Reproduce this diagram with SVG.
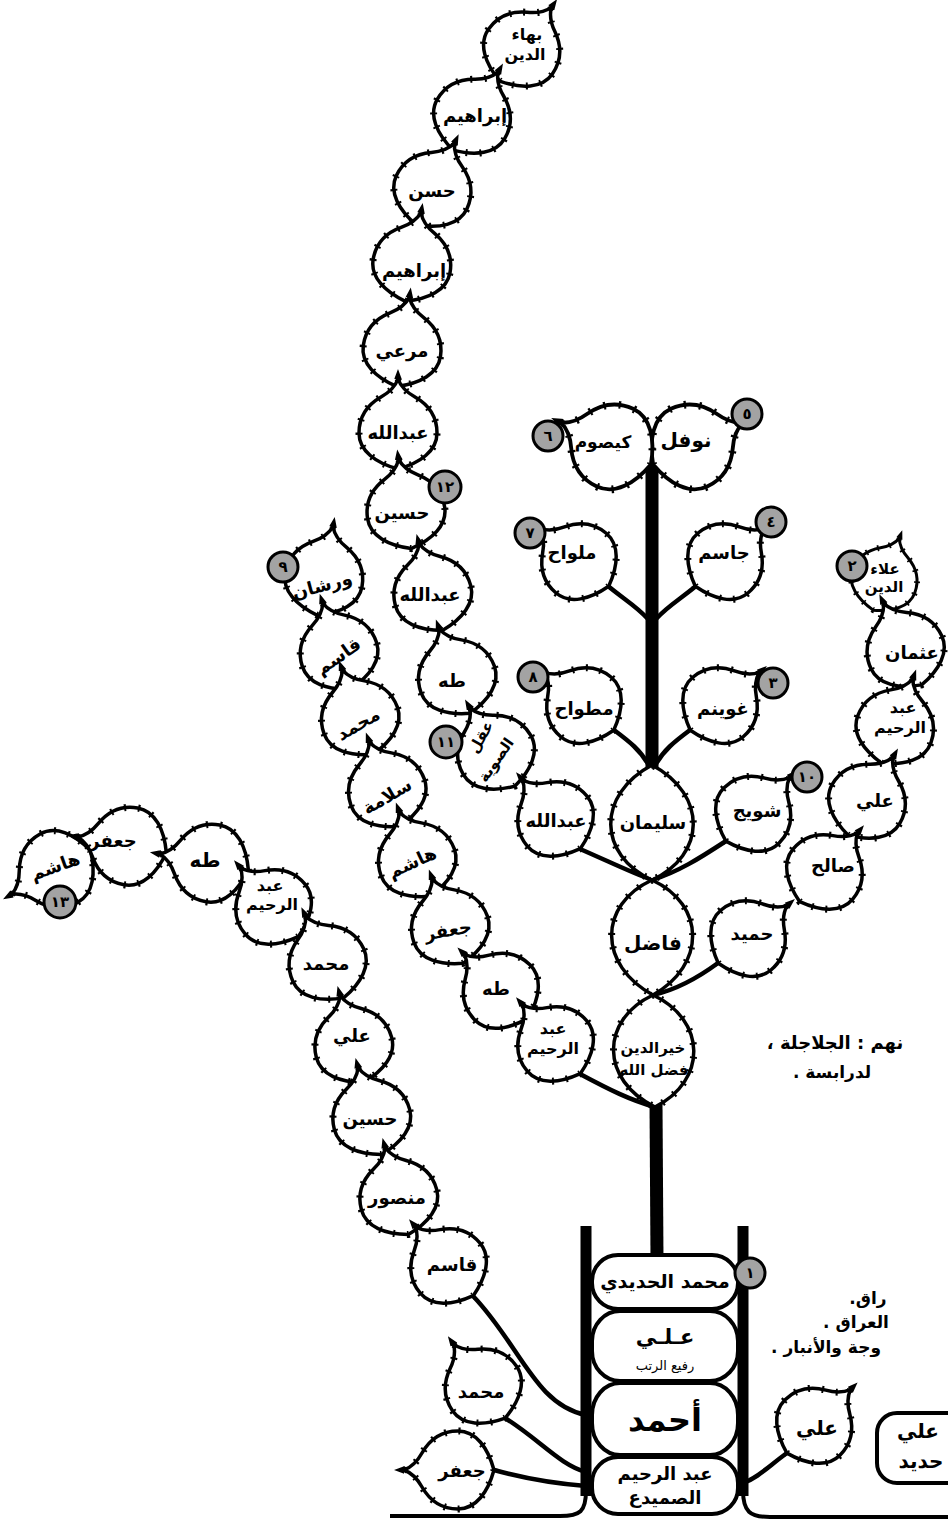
<svg xmlns="http://www.w3.org/2000/svg" width="948" height="1528" viewBox="0 0 948 1528">
<style>
.lf{fill:#fff;stroke:#000;stroke-width:3.5;stroke-linejoin:round}
.lt{fill:none;stroke:#000;stroke-width:7;stroke-dasharray:2 12}
.br{fill:none;stroke:#000;stroke-width:4.5;stroke-linecap:round}
.tk{fill:none;stroke:#000;stroke-width:13}
.ov{fill:#fff;stroke:#000;stroke-width:4}
.c{fill:#a3a3a3;stroke:#000;stroke-width:3}
.t{font-family:"DejaVu Sans",sans-serif;font-weight:bold;font-size:18px;text-anchor:middle;dominant-baseline:central;fill:#000;direction:rtl}
.s{font-size:15px}
.m{font-size:16px}
.d{font-family:"DejaVu Sans",sans-serif;font-weight:bold;font-size:15px;text-anchor:middle;dominant-baseline:central;fill:#000}
.p{font-family:"DejaVu Sans",sans-serif;font-weight:bold;font-size:17px;text-anchor:middle;dominant-baseline:central;fill:#000;direction:rtl}
</style>
<defs>
<path id="lp" d="M0,-46 C3,-38 8,-33 17,-28 C31,-20 39,-8 39,8 C39,26 22,38 0,44 C-22,38 -39,26 -39,8 C-39,-8 -31,-20 -17,-28 C-8,-33 -3,-38 0,-46 Z"/>
<g id="leaf"><use href="#lp" class="lf"/><use href="#lp" class="lt"/></g>
</defs>
<rect width="948" height="1528" fill="#fff"/>

<g id="connectors">
<line class="tk" x1="652" y1="462" x2="652" y2="768"/>
<line class="tk" x1="656" y1="1104" x2="657" y2="1260"/>
<path class="br" d="M608,586 C625,600 636,606 647,618"/>
<path class="br" d="M696,586 C679,600 668,606 657,618"/>
<path class="br" d="M614,730 C630,742 640,750 648,764"/>
<path class="br" d="M690,730 C674,742 664,750 656,764"/>
<path class="br" d="M580,849 C610,862 630,872 652,880"/>
<path class="br" d="M726,841 C700,858 678,872 652,880"/>
<path class="br" d="M718,963 C695,980 675,990 653,995"/>
<path class="br" d="M580,1074 C610,1090 630,1100 655,1107"/>
<path class="br" d="M473,1296 C520,1345 535,1405 586,1415"/>
<path class="br" d="M505,1418 C540,1440 560,1465 586,1472"/>
<path class="br" d="M494,1470 C530,1480 560,1484 586,1486"/>
<path class="br" d="M787,1453 C770,1465 758,1478 743,1483"/>
</g>

<g id="vessel">
<line x1="586" y1="1226" x2="586" y2="1496" stroke="#000" stroke-width="11"/>
<line x1="743" y1="1226" x2="743" y2="1496" stroke="#000" stroke-width="11"/>
<path d="M586,1490 C586,1512 580,1516 560,1516 L390,1516" fill="none" stroke="#000" stroke-width="4"/>
<path d="M743,1490 C743,1512 750,1517 770,1517 L948,1517" fill="none" stroke="#000" stroke-width="4"/>
</g>

<g id="n-nawfal"><use href="#leaf" transform="translate(697,444) rotate(65) scale(1.1)"/><text class="t" x="686" y="440" style="font-size:20px">نوفل</text></g>
<g id="n-kaysum"><use href="#leaf" transform="translate(607,444) rotate(-65) scale(1.1)"/><text class="t" x="603" y="442" style="font-size:17px">كيصوم</text></g>
<g id="n-milwah"><use href="#leaf" transform="translate(575,558) rotate(-50)"/><text class="t" x="572" y="552">ملواح</text></g>
<g id="n-jasim"><use href="#leaf" transform="translate(729,558) rotate(50)"/><text class="t" x="724" y="552">جاسم</text></g>
<g id="n-mitwah"><use href="#leaf" transform="translate(580,702) rotate(-50)"/><text class="t" x="584" y="708">مطواح</text></g>
<g id="n-ghwaynim"><use href="#leaf" transform="translate(724,702) rotate(50)"/><text class="t" x="723" y="708">غوينم</text></g>
<g id="n-shwayj"><use href="#leaf" transform="translate(757,810) rotate(45)"/><text class="t" x="757" y="810">شويج</text></g>

<g id="n-sulayman"><path class="lf" d="M652,765 C596,795 598,855 652,880 C706,855 708,795 652,765 Z"/><path class="lt" d="M652,765 C596,795 598,855 652,880 C706,855 708,795 652,765 Z"/><text class="t" x="653" y="822">سليمان</text></g>
<g id="n-fadil"><path class="lf" d="M652,880 C598,905 598,965 653,995 C706,965 706,905 652,880 Z"/><path class="lt" d="M652,880 C598,905 598,965 653,995 C706,965 706,905 652,880 Z"/><text class="t" x="653" y="943" style="font-size:20px">فاضل</text></g>
<g id="n-khayr"><path class="lf" d="M653,995 C600,1020 600,1080 655,1107 C708,1080 706,1020 653,995 Z"/><path class="lt" d="M653,995 C600,1020 600,1080 655,1107 C708,1080 706,1020 653,995 Z"/><text class="t s" x="653" y="1048">خيرالدين</text><text class="t s" x="654" y="1070">فضل الله</text></g>

<g id="n-bahaa"><use href="#leaf" transform="translate(525,45) rotate(35)"/><text class="t m" x="527" y="34">بهاء</text><text class="t m" x="525" y="54">الدين</text></g>
<g id="n-ibrahim1"><use href="#leaf" transform="translate(475,112) rotate(30)"/><text class="t" x="475" y="115">إبراهيم</text></g>
<g id="n-hasan"><use href="#leaf" transform="translate(435,185) rotate(25)"/><text class="t" x="432" y="190">حسن</text></g>
<g id="n-ibrahim2"><use href="#leaf" transform="translate(413,258) rotate(10)"/><text class="t" x="414" y="270">إبراهيم</text></g>
<g id="n-mari"><use href="#leaf" transform="translate(403,343) rotate(8)"/><text class="t" x="402" y="350">مرعي</text></g>
<g id="n-abdallah1"><use href="#leaf" transform="translate(398,425) rotate(0)"/><text class="t" x="398" y="432">عبدالله</text></g>
<g id="n-husayn1"><use href="#leaf" transform="translate(405,505) rotate(-8)"/><text class="t" x="402" y="512">حسين</text></g>
<g id="n-abdallah2"><use href="#leaf" transform="translate(431,588) rotate(-15)"/><text class="t" x="430" y="594">عبدالله</text></g>
<g id="n-taha1"><use href="#leaf" transform="translate(455,672) rotate(-20)"/><text class="t" x="452" y="680">طه</text></g>
<g id="n-aql"><use href="#leaf" transform="translate(493,748) rotate(-30)"/><text class="t s" transform="translate(481,737) rotate(-60)">عقل</text><text class="t s" transform="translate(496,760) rotate(-55)">الصوية</text></g>
<g id="n-abdallah3"><use href="#leaf" transform="translate(552,815) rotate(-40)"/><text class="t" x="556" y="820">عبدالله</text></g>

<g id="n-warshan"><use href="#leaf" transform="translate(325,572) rotate(10)"/><text class="t" transform="translate(322,585) rotate(-15)">ورشان</text></g>
<g id="n-qasim1"><use href="#leaf" transform="translate(337,647) rotate(-18)"/><text class="t" transform="translate(338,656) rotate(-35)">قاسم</text></g>
<g id="n-muhammad1"><use href="#leaf" transform="translate(358,713) rotate(-20)"/><text class="t" transform="translate(358,724) rotate(-30)">محمد</text></g>
<g id="n-salama"><use href="#leaf" transform="translate(385,785) rotate(-20)"/><text class="t" transform="translate(387,796) rotate(-30)">سلامة</text></g>
<g id="n-hashim1"><use href="#leaf" transform="translate(415,855) rotate(-20)"/><text class="t" transform="translate(412,862) rotate(-25)">هاشم</text></g>
<g id="n-jafar1"><use href="#leaf" transform="translate(448,922) rotate(-20)"/><text class="t" transform="translate(448,930) rotate(-10)">جعفر</text></g>
<g id="n-taha2"><use href="#leaf" transform="translate(497,987) rotate(-45)"/><text class="t" x="496" y="988">طه</text></g>
<g id="n-abdalrahim1"><use href="#leaf" transform="translate(552,1040) rotate(-40)"/><text class="t m" x="553" y="1028">عبد</text><text class="t m" x="553" y="1048">الرحيم</text></g>

<g id="n-hashim2"><use href="#leaf" transform="translate(52,872) rotate(-119)"/><text class="t" transform="translate(55,866) rotate(-20)">هاشم</text></g>
<g id="n-jafar2"><use href="#leaf" transform="translate(123,845) rotate(-80)"/><text class="t" x="113" y="840">جعفر</text></g>
<g id="n-taha3"><use href="#leaf" transform="translate(205,862) rotate(-80)"/><text class="t" x="205" y="860" style="font-size:20px">طه</text></g>
<g id="n-abdalrahim2"><use href="#leaf" transform="translate(270,903) rotate(-40)"/><text class="t m" x="270" y="885">عبد</text><text class="t m" x="272" y="904">الرحيم</text></g>
<g id="n-muhammad2"><use href="#leaf" transform="translate(325,958) rotate(-25)"/><text class="t" x="326" y="963">محمد</text></g>
<g id="n-ali1"><use href="#leaf" transform="translate(352,1040) rotate(-15)"/><text class="t" x="352" y="1035">علي</text></g>
<g id="n-husayn2"><use href="#leaf" transform="translate(370,1112) rotate(-15)"/><text class="t" x="370" y="1118">حسين</text></g>
<g id="n-mansur"><use href="#leaf" transform="translate(397,1192) rotate(-15)"/><text class="t" x="397" y="1197">منصور</text></g>
<g id="n-qasim2"><use href="#leaf" transform="translate(445,1262) rotate(-40)"/><text class="t" x="452" y="1264">قاسم</text></g>
<g id="n-muhammad3"><use href="#leaf" transform="translate(480,1382) rotate(-35)"/><text class="t" x="481" y="1391">محمد</text></g>
<g id="n-jafar3"><use href="#leaf" transform="translate(450,1470) rotate(-90)"/><text class="t" x="462" y="1470">جعفر</text></g>

<g id="n-alaa"><use href="#leaf" transform="translate(886,575) rotate(20) scale(0.85)"/><text class="t s" x="885" y="569">علاء</text><text class="t s" x="884" y="587">الدين</text></g>
<g id="n-uthman"><use href="#leaf" transform="translate(903,645) rotate(-25)"/><text class="t" x="912" y="652">عثمان</text></g>
<g id="n-abdalrahim3"><use href="#leaf" transform="translate(897,722) rotate(20)"/><text class="t m" x="903" y="707">عبد</text><text class="t m" x="900" y="727">الرحيم</text></g>
<g id="n-ali2"><use href="#leaf" transform="translate(870,797) rotate(30)"/><text class="t" x="875" y="800">علي</text></g>
<g id="n-salih"><use href="#leaf" transform="translate(828,868) rotate(40)"/><text class="t" x="833" y="865">صالح</text></g>
<g id="n-hamid"><use href="#leaf" transform="translate(752,935) rotate(50)"/><text class="t" x="752" y="933">حميد</text></g>

<g id="n-ali3"><use href="#leaf" transform="translate(818,1422) rotate(45)"/><text class="t" x="817" y="1428" style="font-size:20px">علي</text></g>

<g id="n-stack">
<rect class="ov" x="592" y="1255" width="146" height="54" rx="26"/>
<text class="t" x="665" y="1281" style="font-size:19px">محمد الحديدي</text>
<rect class="ov" x="592" y="1311" width="146" height="70" rx="28" ry="30"/>
<text class="t" x="665" y="1337" style="font-size:21px">عـلـي</text>
<text class="t" x="665" y="1365" style="font-size:13px;font-weight:normal">رفيع الرتب</text>
<rect class="ov" x="592" y="1383" width="146" height="72" rx="28" ry="32"/>
<text class="t" x="665" y="1420" style="font-size:32px">أحمد</text>
<rect class="ov" x="592" y="1457" width="146" height="57" rx="26"/>
<text class="t" x="665" y="1473" style="font-size:18px">عبد الرحيم</text>
<text class="t" x="665" y="1497" style="font-size:18px">الصميدع</text>
</g>

<g id="n-box">
<rect x="877" y="1413" width="100" height="70" rx="20" fill="#fff" stroke="#000" stroke-width="4"/>
<text class="t" x="918" y="1431" style="font-size:20px">علي</text>
<text class="t" x="921" y="1461" style="font-size:20px">حديد</text>
</g>

<g id="badges">
<circle class="c" cx="750" cy="1273" r="15"/><text class="d" x="750" y="1273">١</text>
<circle class="c" cx="852" cy="566" r="15"/><text class="d" x="852" y="566">٢</text>
<circle class="c" cx="773" cy="683" r="15"/><text class="d" x="773" y="683">٣</text>
<circle class="c" cx="771" cy="522" r="15"/><text class="d" x="771" y="522">٤</text>
<circle class="c" cx="747" cy="414" r="15"/><text class="d" x="747" y="414">٥</text>
<circle class="c" cx="548" cy="436" r="15"/><text class="d" x="548" y="436">٦</text>
<circle class="c" cx="530" cy="533" r="15"/><text class="d" x="530" y="533">٧</text>
<circle class="c" cx="533" cy="677" r="15"/><text class="d" x="533" y="677">٨</text>
<circle class="c" cx="283" cy="567" r="15"/><text class="d" x="283" y="567">٩</text>
<circle class="c" cx="807" cy="777" r="15"/><text class="d" x="807" y="777">١٠</text>
<circle class="c" cx="446" cy="742" r="16"/><text class="d" x="446" y="742">١١</text>
<circle class="c" cx="445" cy="487" r="16"/><text class="d" x="445" y="487">١٢</text>
<circle class="c" cx="60" cy="902" r="16"/><text class="d" x="60" y="902">١٣</text>
</g>

<g id="notes">
<text class="p" x="835" y="1042" style="font-size:18px">نهم : الجلاجلة ،</text>
<text class="p" x="832" y="1072">لدرابسة .</text>
<text class="p" x="868" y="1298">راق.</text>
<text class="p" x="856" y="1322">العراق .</text>
<text class="p" x="826" y="1347">وجة والأنبار .</text>
</g>
</svg>
